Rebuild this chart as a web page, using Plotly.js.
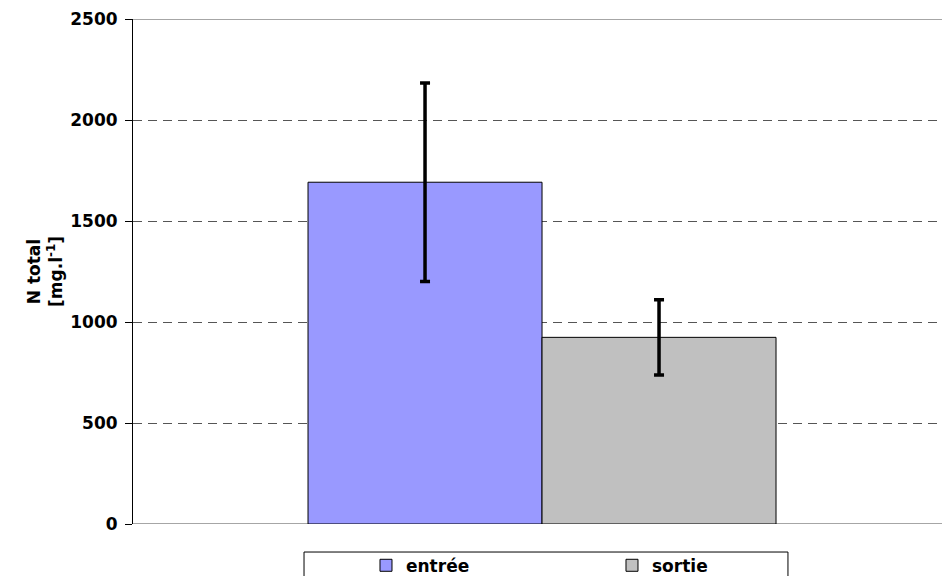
<!DOCTYPE html>
<html>
<head>
<meta charset="utf-8">
<script src="https://cdn.plot.ly/plotly-3.0.1.min.js"></script>
<style>html,body{margin:0;padding:0;background:#fff;}#chart{width:942px;height:576px;}</style>
</head>
<body>
<div id="chart"></div>
<script>
const categories = ["N total"];
const seriesNames = ["entrée", "sortie"];
const entreeValues = [1692];
const entreeErrors = [491];
const sortieValues = [924];
const sortieErrors = [186];
const yTickValues = [0, 500, 1000, 1500, 2000, 2500];
const yTickLabels = ["0", "500", "1000", "1500", "2000", "2500"];

const fontFam = "DejaVu Sans, Arial, sans-serif";
const errStyle = {type: "data", visible: true, color: "#000", thickness: 3.5, width: 5};

const traces = [
  {type: "bar", name: seriesNames[0], x: categories, y: entreeValues,
   error_y: Object.assign({array: entreeErrors}, errStyle),
   marker: {color: "#9999FF", line: {color: "#000", width: 1}}},
  {type: "bar", name: seriesNames[1], x: categories, y: sortieValues,
   error_y: Object.assign({array: sortieErrors}, errStyle),
   marker: {color: "#C0C0C0", line: {color: "#000", width: 1}}}
];

const yMin = yTickValues[0], yMax = yTickValues[yTickValues.length - 1];
const edgeGrid = [yMin, yMax].map(v => ({
  type: "line", xref: "paper", yref: "y", x0: 0, x1: 1, y0: v, y1: v,
  line: {color: "#888", width: 1.5}, layer: "below"
}));

const layout = {
  width: 942, height: 576,
  margin: {l: 133, r: 0, t: 19, b: 52, autoexpand: false},
  paper_bgcolor: "#fff", plot_bgcolor: "#fff",
  barmode: "group", bargap: 0.4215, bargroupgap: 0,
  showlegend: true,
  font: {family: fontFam, color: "#000"},
  xaxis: {type: "category", range: [-0.5056, 0.4944], showticklabels: false,
          showgrid: false, zeroline: false, showline: false, ticks: ""},
  yaxis: {range: [yMin, yMax], tickvals: yTickValues, ticktext: yTickLabels,
          tickfont: {family: fontFam, size: 17, weight: "bold", color: "#000"},
          ticks: "outside", ticklen: 7, tickcolor: "#000", tickwidth: 1,
          showline: true, linecolor: "#000", linewidth: 1, layer: "above traces",
          showgrid: true, gridcolor: "#555", griddash: "9px,6px", gridwidth: 1,
          zeroline: false, ticklabelstandoff: 4,
          title: {text: "N total<br>[mg.l<sup>-1</sup>]", standoff: 3,
                  font: {family: fontFam, size: 17, weight: "bold", color: "#000"}}},
  legend: {orientation: "h", x: 0.288, xanchor: "left", y: -0.047, yanchor: "top",
           bgcolor: "rgba(0,0,0,0)", borderwidth: 0,
           entrywidth: 201, entrywidthmode: "pixels",
           font: {family: fontFam, size: 17, weight: "bold", color: "#000"}},
  shapes: edgeGrid.concat([
    {type: "rect", xref: "paper", yref: "paper", x0: 0.2114, x1: 0.8096, y0: -0.0555, y1: -0.2,
     line: {color: "#000", width: 1}, fillcolor: "rgba(0,0,0,0)", layer: "below"}
  ])
};

Plotly.newPlot("chart", traces, layout, {displayModeBar: false, staticPlot: true});
</script>
</body>
</html>
